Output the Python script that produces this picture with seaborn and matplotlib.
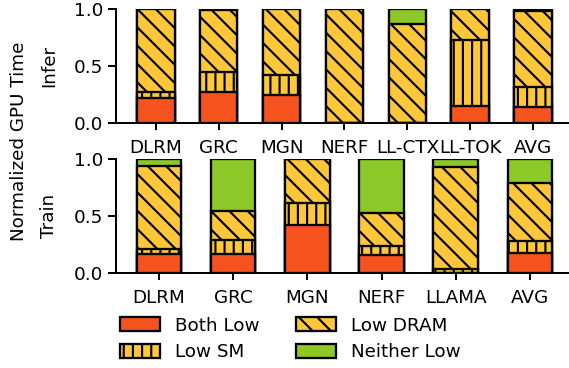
import numpy as np
import matplotlib
matplotlib.use("Agg")
import matplotlib.pyplot as plt
import matplotlib.patches as mpatches
import seaborn as sns

# data (fractions of GPU time)
infer_names = ['DLRM', 'GRC', 'MGN', 'NERF', 'LL-CTX', 'LL-TOK', 'AVG']
infer_both = [0.22, 0.27, 0.25, 0.0, 0.0, 0.15, 0.145]
infer_sm = [0.05, 0.18, 0.17, 0.0, 0.0, 0.58, 0.175]
infer_dram = [0.73, 0.54, 0.58, 1.0, 0.87, 0.27, 0.66]
infer_neither = [0.0, 0.01, 0.0, 0.0, 0.13, 0.0, 0.02]

train_names = ['DLRM', 'GRC', 'MGN', 'NERF', 'LLAMA', 'AVG']
train_both = [0.165, 0.165, 0.42, 0.157, 0.0, 0.18]
train_sm = [0.045, 0.125, 0.20, 0.086, 0.04, 0.10]
train_dram = [0.73, 0.26, 0.38, 0.287, 0.89, 0.51]
train_neither = [0.06, 0.45, 0.0, 0.47, 0.07, 0.21]

categories = ['Both Low', 'Low SM', 'Low DRAM', 'Neither Low']
colors = ['#F7531F', '#FEC73A', '#FEC73A', '#8CC828']
hatches = ['', '||', '\\\\', '']

sns.set_theme(style='ticks', rc={'text.color': 'black', 'axes.labelcolor': 'black',
                                 'xtick.color': 'black', 'ytick.color': 'black',
                                 'axes.edgecolor': 'black'})
plt.rcParams['font.family'] = ['DejaVu Sans']
plt.rcParams['hatch.linewidth'] = 1.4
plt.rcParams['axes.linewidth'] = 1.3
plt.rcParams['xtick.major.width'] = 1.3
plt.rcParams['ytick.major.width'] = 1.3
plt.rcParams['xtick.major.size'] = 4.5
plt.rcParams['ytick.major.size'] = 5
plt.rcParams['xtick.major.pad'] = 5.5
plt.rcParams['xtick.labelsize'] = 12
plt.rcParams['ytick.labelsize'] = 12
plt.rcParams['axes.labelsize'] = 12

dpi = 110
fig = plt.figure(figsize=(569 / dpi, 368 / dpi), dpi=dpi)
ax1 = fig.add_axes([0.2039, 0.665, 0.803, 0.310])
ax2 = fig.add_axes([0.2039, 0.2573, 0.803, 0.310])


def stacked(ax, names, parts, label):
    cum = np.cumsum(np.array(parts), axis=0)
    # draw from top down so lower segments overlay higher ones
    for i in range(len(parts) - 1, -1, -1):
        sns.barplot(x=names, y=cum[i], color=colors[i], saturation=1,
                    edgecolor='black', linewidth=1.5, hatch=hatches[i],
                    width=0.6, errorbar=None, ax=ax)
    n = len(names)
    span = (n - 1) + 0.6
    ax.set_xlim(-0.3 - 0.05 * span, n - 0.7 + 0.05 * span)
    ax.set_ylim(0, 1)
    ax.set_yticks([0, 0.5, 1.0])
    ax.set_yticklabels(['0.0', '0.5', '1.0'])
    ax.set_ylabel(label)
    ax.yaxis.set_label_coords(-0.127, 0.5)
    sns.despine(ax=ax)


stacked(ax1, infer_names, [infer_both, infer_sm, infer_dram, infer_neither], 'Infer')
stacked(ax2, train_names, [train_both, train_sm, train_dram, train_neither], 'Train')

fig.text(0.033, 0.617, 'Normalized GPU Time', rotation=90, ha='center',
         va='center', fontsize=12)

handles = [mpatches.Patch(facecolor=colors[i], edgecolor='black', linewidth=1.5,
                          hatch=hatches[i], label=categories[i])
           for i in range(len(categories))]
fig.legend(handles=handles, ncol=2, loc='center', bbox_to_anchor=(0.51, 0.079),
           frameon=False, fontsize=12, handlelength=2.2, handleheight=0.8,
           handletextpad=0.8, columnspacing=2.0, borderpad=0, labelspacing=0.45)

fig.savefig('out.png', dpi=dpi)
